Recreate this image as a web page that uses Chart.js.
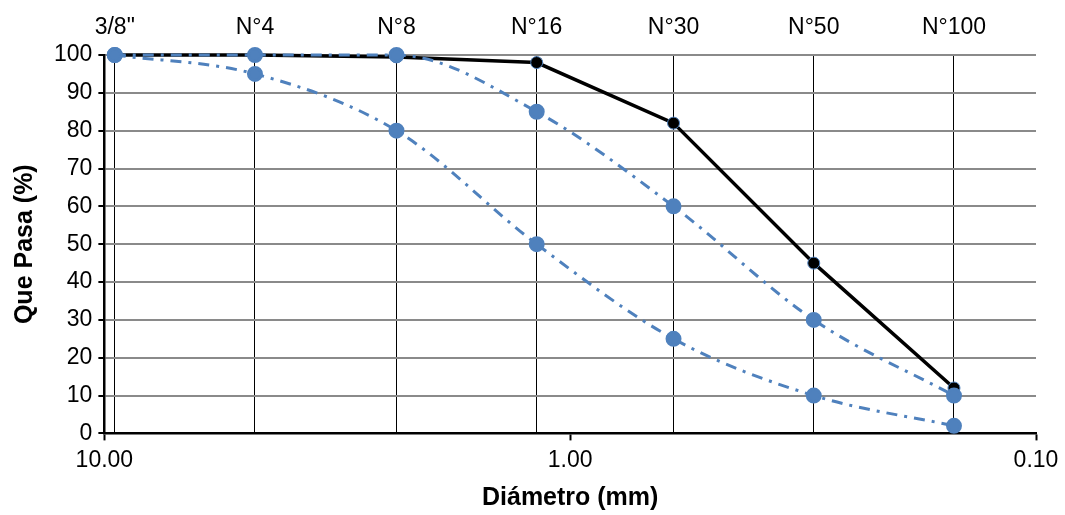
<!DOCTYPE html>
<html>
<head>
<meta charset="utf-8">
<script src="https://cdn.jsdelivr.net/npm/chart.js@4.4.0/dist/chart.umd.min.js"></script>
<style>
  body { margin: 0; background: #fff; }
  #wrap { width: 1065px; height: 515px; }
</style>
</head>
<body>
<div id="wrap"><canvas id="myChart"></canvas></div>
<script>
// sieve labels and openings (mm)
var sieveLabels = ['3/8"', 'N°4', 'N°8', 'N°16', 'N°30', 'N°50', 'N°100'];
var sieveSizes = [9.5, 4.75, 2.36, 1.18, 0.6, 0.3, 0.15];
var xTickValues = [10, 1, 0.1];

// % que pasa
var muestra = [100, 100, 99.5, 98, 82, 45, 12];
var limiteSup = [100, 100, 100, 85, 60, 30, 10];
var limiteInf = [100, 95, 80, 50, 25, 10, 2];

var blue = '#4F81BD';

function toPoints(vals) {
    return vals.map(function (v, i) { return { x: sieveSizes[i], y: v }; });
}

Chart.defaults.font.family = "'Liberation Sans', Arial, sans-serif";
Chart.defaults.font.size = 23;
Chart.defaults.color = '#000';

var ctx = document.getElementById('myChart').getContext('2d');
var chart = new Chart(ctx, {
    type: 'line',
    data: {
        datasets: [{
            label: 'Muestra',
            data: toPoints(muestra),
            borderColor: '#000',
            borderWidth: 3.5,
            backgroundColor: '#000',
            pointBackgroundColor: '#000',
            pointBorderColor: blue,
            pointBorderWidth: 1,
            pointRadius: 6,
            tension: 0,
            clip: false,
            order: 2
        },
        {
            label: 'Límite superior',
            data: toPoints(limiteSup),
            borderColor: blue,
            borderWidth: 3,
            borderDash: [11, 7, 3, 7],
            backgroundColor: blue,
            pointBackgroundColor: blue,
            pointBorderColor: blue,
            pointRadius: 6.5,
            cubicInterpolationMode: 'monotone',
            clip: false,
            order: 1
        },
        {
            label: 'Límite inferior',
            data: toPoints(limiteInf),
            borderColor: blue,
            borderWidth: 3,
            borderDash: [11, 7, 3, 7],
            backgroundColor: blue,
            pointBackgroundColor: blue,
            pointBorderColor: blue,
            pointRadius: 6.5,
            cubicInterpolationMode: 'monotone',
            clip: false,
            order: 1
        }]
    },
    options: {
        responsive: true,
        maintainAspectRatio: false,
        animation: false,
        layout: { padding: { left: 10, right: 29, top: 0, bottom: 2 } },
        plugins: {
            legend: { display: false },
            tooltip: { enabled: false }
        },
        scales: {
            x: {
                type: 'logarithmic',
                position: 'bottom',
                reverse: true,
                min: 0.1,
                max: 10,
                afterBuildTicks: function (scale) {
                    scale.ticks = xTickValues.map(function (v) { return { value: v }; });
                },
                ticks: {
                    autoSkip: false,
                    maxRotation: 0,
                    padding: 6,
                    callback: function (v) { return Number(v).toFixed(2); }
                },
                grid: {
                    drawOnChartArea: false,
                    drawTicks: true,
                    tickLength: 7,
                    tickColor: '#000',
                    tickWidth: 2
                },
                border: { color: '#000', width: 2.5 },
                title: {
                    display: true,
                    text: 'Diámetro (mm)',
                    font: { size: 25, weight: 'bold' },
                    padding: { top: 3, bottom: 0 }
                }
            },
            x2: {
                type: 'logarithmic',
                position: 'top',
                reverse: true,
                min: 0.1,
                max: 10,
                afterBuildTicks: function (scale) {
                    scale.ticks = sieveSizes.map(function (v) { return { value: v }; });
                },
                ticks: {
                    autoSkip: false,
                    maxRotation: 0,
                    padding: 16,
                    font: { lineHeight: 1 },
                    callback: function (v, i) { return sieveLabels[i]; }
                },
                grid: {
                    color: '#000',
                    lineWidth: 1,
                    drawTicks: false
                },
                border: { display: false }
            },
            y: {
                min: 0,
                max: 100,
                ticks: { stepSize: 10, padding: 6 },
                grid: {
                    color: '#8a8a8a',
                    lineWidth: 2,
                    tickColor: '#000',
                    tickLength: 6,
                    tickWidth: 2
                },
                border: { color: '#000', width: 2.5 },
                title: {
                    display: true,
                    text: 'Que Pasa (%)',
                    font: { size: 25, weight: 'bold' },
                    padding: { top: 0, bottom: 8 }
                }
            }
        }
    }
});
</script>
</body>
</html>
